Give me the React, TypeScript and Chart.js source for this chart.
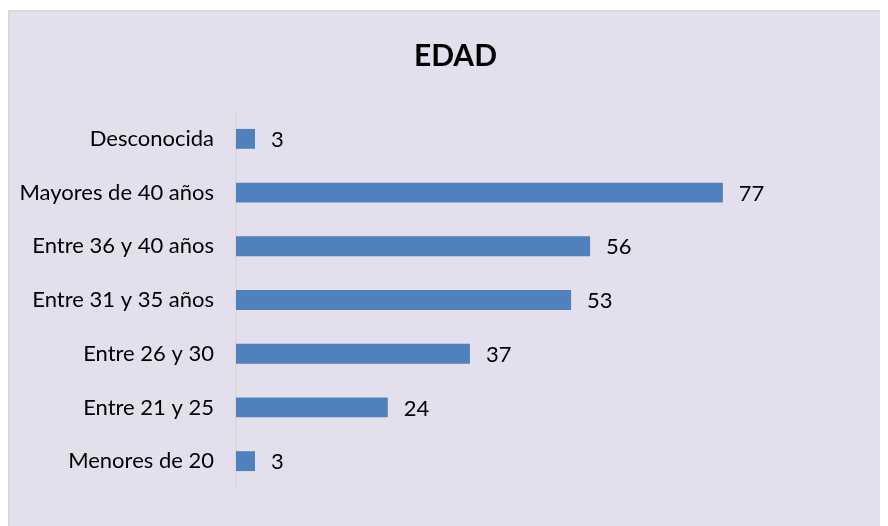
import React, { useEffect, useRef } from "react";
import { Chart, registerables } from "chart.js";

Chart.register(...registerables);

const categories = [
  "Desconocida",
  "Mayores de 40 años",
  "Entre 36 y 40 años",
  "Entre 31 y 35 años",
  "Entre 26 y 30",
  "Entre 21 y 25",
  "Menores de 20",
];
const values = [3, 77, 56, 53, 37, 24, 3];
const chartTitle = "EDAD";
const axisMax = 104.7;

const FONT = "Lato, 'Open Sans', sans-serif";

const framePlugin = {
  id: "frame",
  beforeDraw(chart: any) {
    const { ctx, width, height } = chart;
    ctx.save();
    ctx.fillStyle = "#ffffff";
    ctx.fillRect(0, 0, width, height);
    ctx.fillStyle = "#e4dfec";
    ctx.fillRect(0, 2, width, height - 2);
    ctx.fillStyle = "#d9d9d9";
    ctx.fillRect(0, 2, width, 2);
    ctx.fillRect(0, 2, 2, height - 2);
    ctx.restore();
  },
};

const valueLabelPlugin = {
  id: "valueLabels",
  afterDatasetsDraw(chart: any) {
    const { ctx } = chart;
    const meta = chart.getDatasetMeta(0);
    ctx.save();
    ctx.font = `22px ${FONT}`;
    ctx.fillStyle = "#000000";
    ctx.textAlign = "left";
    ctx.textBaseline = "middle";
    meta.data.forEach((bar: any, i: number) => {
      ctx.fillText(String(values[i]), bar.x + 16, bar.y + 1);
    });
    ctx.restore();
  },
};

export default function App() {
  const ref = useRef<HTMLCanvasElement>(null);
  useEffect(() => {
    if (!ref.current) return;
    const chart = new Chart(ref.current, {
      type: "bar",
      data: {
        labels: categories,
        datasets: [
          {
            data: values,
            backgroundColor: "#4f81bd",
            barPercentage: 0.37,
            categoryPercentage: 1,
          },
        ],
      },
      options: {
        indexAxis: "y",
        animation: false,
        responsive: false,
        layout: { padding: { left: 5, right: 10, top: 0, bottom: 38 } },
        plugins: {
          legend: { display: false },
          tooltip: { enabled: false },
          title: {
            display: true,
            text: chartTitle,
            color: "#000000",
            font: { family: FONT, size: 30, weight: "bold" },
            padding: { top: 30, bottom: 38 },
          },
        },
        scales: {
          x: {
            min: 0,
            max: axisMax,
            display: false,
          },
          y: {
            grid: { display: false, drawTicks: false },
            border: { display: true, color: "#d9d9d9", width: 2 },
            ticks: {
              color: "#000000",
              font: { family: FONT, size: 22 },
              padding: 22,
            },
            afterFit(scale: any) {
              scale.width = 223;
            },
          },
        },
      },
      plugins: [framePlugin, valueLabelPlugin],
    });
    return () => chart.destroy();
  }, []);
  return (
    <div style={{ width: 880, height: 518, overflow: "hidden" }}>
      <canvas ref={ref} width={900} height={518} style={{ display: "block" }} />
    </div>
  );
}
